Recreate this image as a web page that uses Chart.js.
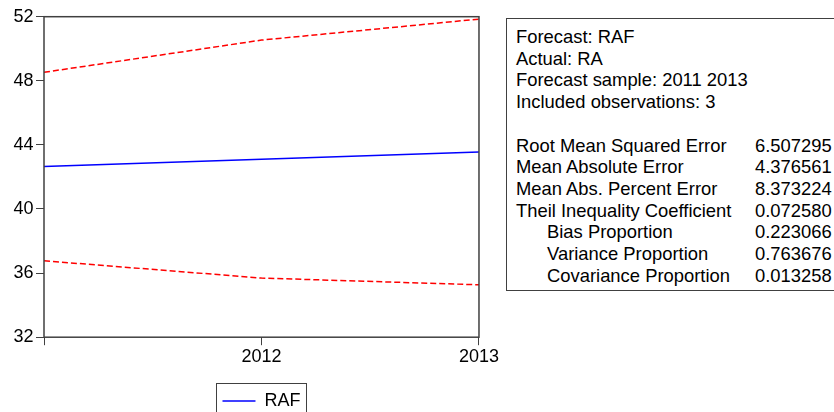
<!DOCTYPE html>
<html>
<head>
<meta charset="utf-8">
<script src="https://cdn.jsdelivr.net/npm/chart.js@4.4.1/dist/chart.umd.min.js"></script>
<style>
  html, body { margin: 0; padding: 0; background: #fff; overflow: hidden; width: 834px; height: 412px; }
  #plot { position: absolute; left: 0; top: 0; width: 500px; height: 420px; }
  #stats {
    position: absolute; left: 506px; top: 18px; width: 400px; height: 273px;
    border: 1px solid #404040; box-sizing: border-box;
    font-family: "Liberation Sans", Arial, sans-serif; font-size: 18.4px; color: #000;
  }
  #stats .row { position: absolute; left: 9px; height: 21.7px; line-height: 21.7px; white-space: nowrap; }
  #stats .row.sub { left: 40px; }
  #stats .val { position: absolute; left: 248px; height: 21.7px; line-height: 21.7px; white-space: nowrap; }
</style>
</head>
<body>
<div id="plot"><canvas id="chart"></canvas></div>
<div id="stats"></div>
<script>
// Forecast path for RAF with the ±2 S.E. band, annual 2011–2013
const years = ['2011', '2012', '2013'];
const xTickLabels = ['', '2012', '2013'];
const yTicks = [32, 36, 40, 44, 48, 52];
const raf = [42.65, 43.10, 43.55];
const rafUpper = [48.53, 50.54, 51.85];
const rafLower = [36.77, 35.69, 35.27];

// Forecast evaluation summary
const headerLines = ['Forecast: RAF', 'Actual: RA', 'Forecast sample: 2011 2013', 'Included observations: 3'];
const metricNames = ['Root Mean Squared Error', 'Mean Absolute Error', 'Mean Abs. Percent Error',
  'Theil Inequality Coefficient', 'Bias Proportion', 'Variance Proportion', 'Covariance Proportion'];
const metricValues = ['6.507295', '4.376561', '8.373224', '0.072580', '0.223066', '0.763676', '0.013258'];
const metricIndented = [false, false, false, false, true, true, true];

// Build the summary table
(function buildStats() {
  const box = document.getElementById('stats');
  const lineH = 21.7, firstTop = 7;
  const add = (cls, text, idx) => {
    const d = document.createElement('div');
    d.className = cls;
    d.style.top = (firstTop + idx * lineH) + 'px';
    d.textContent = text;
    box.appendChild(d);
  };
  headerLines.forEach((t, i) => add('row', t, i));
  metricNames.forEach((t, i) => {
    const idx = headerLines.length + 1 + i;
    add(metricIndented[i] ? 'row sub' : 'row', t, idx);
    add('val', metricValues[i], idx);
  });
})();

const FONT = "'Liberation Sans', Arial, sans-serif";
const AXIS = '#404040';

// Box around the plot area and a border around the legend
const framePlugin = {
  id: 'frame',
  afterDraw(chart) {
    const { ctx, chartArea: a } = chart;
    ctx.save();
    ctx.strokeStyle = AXIS;
    ctx.lineWidth = 1.5;
    ctx.strokeRect(a.left, a.top, a.right - a.left, a.bottom - a.top);
    const lg = chart.legend;
    if (lg && lg.legendHitBoxes && lg.legendHitBoxes.length) {
      const hb = lg.legendHitBoxes[0];
      ctx.lineWidth = 1;
      ctx.strokeRect(Math.round(hb.left - 6) + 0.5, Math.round(hb.top - 9) + 0.5, Math.round(hb.width + 12), 60);
    }
    ctx.restore();
  }
};

new Chart(document.getElementById('chart'), {
  type: 'line',
  data: {
    labels: years,
    datasets: [
      { label: 'RAF', data: raf, borderColor: '#0000ff', borderWidth: 1.5, pointRadius: 0, fill: false, tension: 0 },
      { label: 'RAF + 2 S.E.', data: rafUpper, borderColor: '#ff0000', borderWidth: 1.5, borderDash: [6, 3], pointRadius: 0, fill: false, tension: 0 },
      { label: 'RAF - 2 S.E.', data: rafLower, borderColor: '#ff0000', borderWidth: 1.5, borderDash: [6, 3], pointRadius: 0, fill: false, tension: 0 }
    ]
  },
  options: {
    responsive: true,
    maintainAspectRatio: false,
    animation: false,
    layout: { padding: { top: 16.7, right: 21, left: 0, bottom: 0 } },
    plugins: {
      tooltip: { enabled: false },
      legend: {
        position: 'bottom',
        fullSize: false,
        labels: {
          usePointStyle: true,
          pointStyle: 'line',
          pointStyleWidth: 33,
          padding: 10,
          color: '#000',
          font: { family: FONT, size: 18 },
          filter: (item) => item.datasetIndex === 0
        }
      }
    },
    scales: {
      x: {
        type: 'category',
        offset: false,
        border: { display: false },
        grid: { drawOnChartArea: false, drawTicks: true, tickLength: 8, color: AXIS, lineWidth: 1 },
        ticks: {
          autoSkip: false, maxRotation: 0, padding: 1, color: '#000',
          font: { family: FONT, size: 18 },
          callback: (v, i) => xTickLabels[i]
        },
        afterFit: (s) => { s.height = 44.8; }
      },
      y: {
        min: 32, max: 52,
        border: { display: false },
        grid: { drawOnChartArea: false, drawTicks: true, tickLength: 8, color: AXIS, lineWidth: 1 },
        ticks: { padding: 2.5, color: '#000', font: { family: FONT, size: 18 } },
        afterBuildTicks: (s) => { s.ticks = yTicks.map(v => ({ value: v })); },
        afterFit: (s) => { s.width = 44; }
      }
    }
  },
  plugins: [framePlugin]
});
</script>
</body>
</html>
